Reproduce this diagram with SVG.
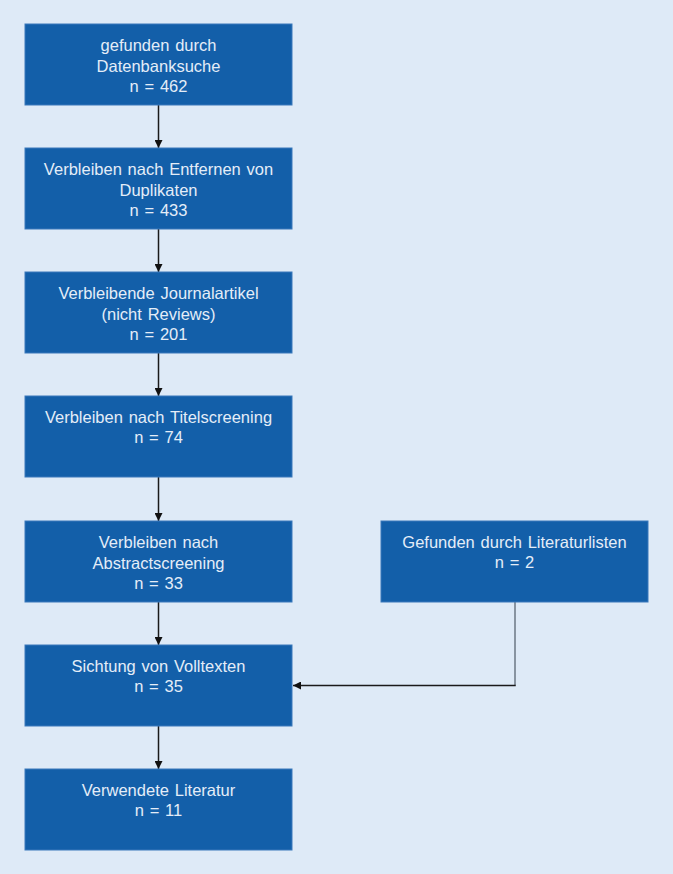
<svg xmlns="http://www.w3.org/2000/svg" width="673" height="874" viewBox="0 0 673 874">
<defs>
<style>
.box{fill:#135fa9;stroke:#3a78bb;stroke-width:1}
.t{font-family:"Liberation Sans",Arial,sans-serif;font-size:16.5px;word-spacing:1.2px;fill:#e4edf8;text-anchor:middle}
.c{stroke:#1a1a1a;stroke-width:1.5;fill:none}
</style>
<marker id="ah" viewBox="0 0 10 10" refX="10" refY="5" markerWidth="8" markerHeight="8" orient="auto" markerUnits="userSpaceOnUse">
<path d="M0,0 L10,5 L0,10 z" fill="#111"/>
</marker>
</defs>
<rect width="673" height="874" fill="#deeaf7"/>
<g id="connectors">
<line class="c" x1="158.5" y1="105" x2="158.5" y2="148" marker-end="url(#ah)"/>
<line class="c" x1="158.5" y1="229" x2="158.5" y2="272" marker-end="url(#ah)"/>
<line class="c" x1="158.5" y1="353" x2="158.5" y2="396" marker-end="url(#ah)"/>
<line class="c" x1="158.5" y1="477" x2="158.5" y2="521" marker-end="url(#ah)"/>
<line class="c" x1="158.5" y1="602" x2="158.5" y2="645" marker-end="url(#ah)"/>
<line class="c" x1="158.5" y1="726" x2="158.5" y2="769" marker-end="url(#ah)"/>
<polyline points="515,602 515,685.5" stroke="#6b7785" stroke-width="1.5" fill="none"/>
<line class="c" x1="515.7" y1="685.5" x2="293" y2="685.5" marker-end="url(#ah)"/>
</g>
<g id="n1"><rect class="box" x="25" y="24" width="267" height="81"/>
<text class="t" x="158.5" y="51">gefunden durch</text><text class="t" x="158.5" y="72">Datenbanksuche</text><text class="t" x="158.5" y="92">n = 462</text></g>
<g id="n2"><rect class="box" x="25" y="148" width="267" height="81"/>
<text class="t" x="158.5" y="175">Verbleiben nach Entfernen von</text><text class="t" x="158.5" y="196">Duplikaten</text><text class="t" x="158.5" y="216">n = 433</text></g>
<g id="n3"><rect class="box" x="25" y="272" width="267" height="81"/>
<text class="t" x="158.5" y="299">Verbleibende Journalartikel</text><text class="t" x="158.5" y="320">(nicht Reviews)</text><text class="t" x="158.5" y="340">n = 201</text></g>
<g id="n4"><rect class="box" x="25" y="396" width="267" height="81"/>
<text class="t" x="158.5" y="423">Verbleiben nach Titelscreening</text><text class="t" x="158.5" y="443">n = 74</text></g>
<g id="n5"><rect class="box" x="25" y="521" width="267" height="81"/>
<text class="t" x="158.5" y="548">Verbleiben nach</text><text class="t" x="158.5" y="569">Abstractscreening</text><text class="t" x="158.5" y="589">n = 33</text></g>
<g id="n6"><rect class="box" x="25" y="645" width="267" height="81"/>
<text class="t" x="158.5" y="672">Sichtung von Volltexten</text><text class="t" x="158.5" y="692">n = 35</text></g>
<g id="n7"><rect class="box" x="25" y="769" width="267" height="81"/>
<text class="t" x="158.5" y="796">Verwendete Literatur</text><text class="t" x="158.5" y="816">n = 11</text></g>
<g id="n8"><rect class="box" x="381" y="521" width="267" height="81"/>
<text class="t" x="514.5" y="548">Gefunden durch Literaturlisten</text><text class="t" x="514.5" y="568">n = 2</text></g>
</svg>
